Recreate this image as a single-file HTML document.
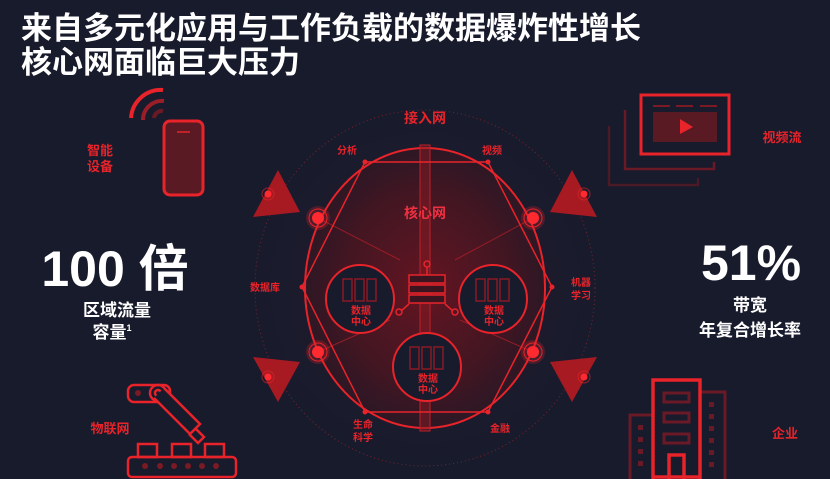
<!DOCTYPE html>
<html><head><meta charset="utf-8"><style>
html,body{margin:0;padding:0;background:#181b2c;}
svg{display:block}
text{font-family:"Liberation Sans","Noto Sans CJK SC",sans-serif;font-weight:bold}
</style></head><body>
<svg width="830" height="479" viewBox="0 0 830 479" xmlns="http://www.w3.org/2000/svg">
<defs>
<radialGradient id="g1" cx="50%" cy="50%" r="50%">
<stop offset="0" stop-color="#6a1420" stop-opacity="0.9"/>
<stop offset="0.7" stop-color="#4a1520" stop-opacity="0.8"/>
<stop offset="1" stop-color="#3a1520" stop-opacity="0.6"/>
</radialGradient>
<radialGradient id="g2" cx="50%" cy="50%" r="50%">
<stop offset="0" stop-color="#3a1828" stop-opacity="0.8"/>
<stop offset="1" stop-color="#181b2c" stop-opacity="0"/>
</radialGradient>
</defs>
<rect width="830" height="479" fill="#181b2c"/>
<!-- title -->
<text x="21" y="39" fill="#fff" font-size="31">来自多元化应用与工作负载的数据爆炸性增长</text>
<text x="21" y="73" fill="#fff" font-size="31">核心网面临巨大压力</text>

<!-- center glow -->
<ellipse cx="425" cy="288" rx="200" ry="200" fill="url(#g2)"/>
<ellipse cx="425" cy="288" rx="170" ry="178" fill="none" stroke="#e8232a" stroke-opacity="0.5" stroke-dasharray="1 3" stroke-width="1"/>
<!-- main ellipse -->
<ellipse cx="425" cy="288" rx="120" ry="140" fill="url(#g1)" stroke="#e8232a" stroke-width="2"/>
<rect x="420" y="145" width="10" height="286" fill="#8a1a22" fill-opacity="0.5" stroke="#c01f28" stroke-width="1"/>
<!-- hexagon -->
<polygon points="365,162 488,162 552,287 488,412 365,412 302,287" fill="none" stroke="#e8232a" stroke-width="1.5"/>
<g fill="#e8232a"><circle cx="365" cy="162" r="2.5"/><circle cx="488" cy="162" r="2.5"/><circle cx="552" cy="287" r="2.5"/><circle cx="488" cy="412" r="2.5"/><circle cx="365" cy="412" r="2.5"/><circle cx="302" cy="287" r="2.5"/></g>
<g stroke="#e8232a" stroke-opacity="0.5" stroke-width="1">
<line x1="318" y1="218" x2="400" y2="260"/><line x1="533" y1="218" x2="455" y2="260"/>
<line x1="318" y1="352" x2="390" y2="320"/><line x1="533" y1="352" x2="460" y2="320"/>
</g>
<!-- nodes -->
<g>
<g transform="translate(318,218)"><circle r="12" fill="#e8232a" fill-opacity="0.25"/><circle r="9" fill="none" stroke="#e8232a"/><circle r="6" fill="#ff2a30"/></g>
<g transform="translate(533,218)"><circle r="12" fill="#e8232a" fill-opacity="0.25"/><circle r="9" fill="none" stroke="#e8232a"/><circle r="6" fill="#ff2a30"/></g>
<g transform="translate(318,352)"><circle r="12" fill="#e8232a" fill-opacity="0.25"/><circle r="9" fill="none" stroke="#e8232a"/><circle r="6" fill="#ff2a30"/></g>
<g transform="translate(533,352)"><circle r="12" fill="#e8232a" fill-opacity="0.25"/><circle r="9" fill="none" stroke="#e8232a"/><circle r="6" fill="#ff2a30"/></g>
</g>
<!-- triangles -->
<g fill="#a81a22">
<polygon points="278,170 300,212 253,217"/>
<polygon points="253,357 300,362 278,402"/>
<polygon points="572,170 550,212 597,217"/>
<polygon points="597,357 550,362 572,402"/>
</g>
<g><circle cx="268" cy="194" r="6" fill="none" stroke="#e8232a" stroke-opacity="0.6"/><circle cx="268" cy="194" r="3.5" fill="#ff2a30"/>
<circle cx="268" cy="377" r="6" fill="none" stroke="#e8232a" stroke-opacity="0.6"/><circle cx="268" cy="377" r="3.5" fill="#ff2a30"/>
<circle cx="584" cy="194" r="6" fill="none" stroke="#e8232a" stroke-opacity="0.6"/><circle cx="584" cy="194" r="3.5" fill="#ff2a30"/>
<circle cx="584" cy="377" r="6" fill="none" stroke="#e8232a" stroke-opacity="0.6"/><circle cx="584" cy="377" r="3.5" fill="#ff2a30"/></g>
<!-- labels around -->
<g fill="#e8232a">
<text x="425" y="123" font-size="14" text-anchor="middle">接入网</text>
<text x="347" y="154" font-size="10" text-anchor="middle">分析</text>
<text x="492" y="154" font-size="10" text-anchor="middle">视频</text>
<text x="425" y="218" font-size="14" text-anchor="middle" fill="#f03040">核心网</text>
<text x="265" y="291" font-size="10" text-anchor="middle">数据库</text>
<text x="581" y="286" font-size="10" text-anchor="middle">机器</text>
<text x="581" y="299" font-size="10" text-anchor="middle">学习</text>
<text x="363" y="428" font-size="10" text-anchor="middle">生命</text>
<text x="363" y="441" font-size="10" text-anchor="middle">科学</text>
<text x="500" y="432" font-size="10" text-anchor="middle">金融</text>
</g>
<!-- server icon -->
<g stroke="#e8232a" stroke-width="1.5" fill="none">
<rect x="409" y="275" width="36" height="8" fill="#3a1520"/>
<rect x="409" y="285" width="36" height="8" fill="#3a1520"/>
<rect x="409" y="295" width="36" height="8" fill="#3a1520"/>
<line x1="427" y1="275" x2="427" y2="267"/><circle cx="427" cy="264" r="3"/>
<line x1="409" y1="304" x2="401" y2="311"/><circle cx="399" cy="312" r="3"/>
<line x1="445" y1="304" x2="453" y2="311"/><circle cx="455" cy="312" r="3"/>
</g>
<!-- datacenters -->
<g>
<circle cx="360" cy="299" r="34" fill="#181b2c" stroke="#e8232a" stroke-width="2"/>
<circle cx="493" cy="299" r="34" fill="#181b2c" stroke="#e8232a" stroke-width="2"/>
<circle cx="427" cy="367" r="34" fill="#181b2c" stroke="#e8232a" stroke-width="2"/>
</g>
<g stroke="#8a1a24" stroke-width="1.5" fill="none">
<rect x="343" y="279" width="9" height="22"/><rect x="355" y="279" width="9" height="22"/><rect x="367" y="279" width="9" height="22"/>
<rect x="476" y="279" width="9" height="22"/><rect x="488" y="279" width="9" height="22"/><rect x="500" y="279" width="9" height="22"/>
<rect x="410" y="347" width="9" height="22"/><rect x="422" y="347" width="9" height="22"/><rect x="434" y="347" width="9" height="22"/>
</g>
<g fill="#e8232a" font-size="10" text-anchor="middle">
<text x="361" y="314">数据</text><text x="361" y="325">中心</text>
<text x="494" y="314">数据</text><text x="494" y="325">中心</text>
<text x="428" y="382">数据</text><text x="428" y="393">中心</text>
</g>

<!-- phone -->
<rect x="164" y="121" width="39" height="74" rx="6" fill="#5a1a24" stroke="#e8232a" stroke-width="3"/>
<line x1="177" y1="132" x2="190" y2="132" stroke="#e8232a" stroke-width="1.5"/>
<path d="M131,118 A30,30 0 0 1 163,90" fill="none" stroke="#e8232a" stroke-width="4"/>
<path d="M143,120 A19,19 0 0 1 164,101" fill="none" stroke="#9a1e28" stroke-width="4"/>
<path d="M154,118 A8,8 0 0 1 163,111" fill="none" stroke="#6a1a24" stroke-width="4"/>
<text x="100" y="155" fill="#e8232a" font-size="13" text-anchor="middle">智能</text>
<text x="100" y="171" fill="#e8232a" font-size="13" text-anchor="middle">设备</text>

<text x="115" y="286" fill="#fff" font-size="50" text-anchor="middle">100 倍</text>
<text x="117" y="316" fill="#fff" font-size="17" text-anchor="middle" font-weight="normal">区域流量</text>
<text x="112" y="338" fill="#fff" font-size="17" text-anchor="middle" font-weight="normal">容量<tspan font-size="9" dy="-7">1</tspan></text>

<!-- robot -->
<g stroke="#e8232a" stroke-width="2.5" fill="none">
<rect x="128" y="385" width="42" height="17" rx="6"/>
<circle cx="158" cy="393" r="8"/><circle cx="158" cy="393" r="3"/>
<path d="M164,388 L200,424 L190,434 L154,398" fill="#181b2c"/>
<path d="M195,428 L204,437 L198,443 L189,434" />
<rect x="128" y="457" width="108" height="20" rx="4"/>
<rect x="138" y="444" width="19" height="13"/><rect x="172" y="444" width="19" height="13"/><rect x="205" y="444" width="19" height="13"/>
</g>
<circle cx="138" cy="393" r="3" fill="#7a1a24"/>
<g fill="#7a1a24"><circle cx="145" cy="466" r="3"/><circle cx="160" cy="466" r="3"/><circle cx="174" cy="466" r="3"/><circle cx="188" cy="466" r="3"/><circle cx="202" cy="466" r="3"/><circle cx="216" cy="466" r="3"/></g>
<text x="110" y="433" fill="#e8232a" font-size="13" text-anchor="middle">物联网</text>

<!-- video -->
<g fill="none">
<path d="M609,126 L609,185 L698,185 L698,178" stroke="#4a1a26" stroke-width="2.5"/>
<path d="M625,110 L625,169 L714,169 L714,162" stroke="#6a1a26" stroke-width="2.5"/>
<rect x="641" y="95" width="88" height="59" stroke="#e8232a" stroke-width="3"/>
</g>
<rect x="653" y="112" width="64" height="30" fill="#5a1a24"/>
<g stroke="#7a1a24" stroke-width="2"><line x1="653" y1="106" x2="670" y2="106"/><line x1="676" y1="106" x2="693" y2="106"/><line x1="700" y1="106" x2="717" y2="106"/></g>
<polygon points="680,119 680,134 693,127" fill="#e8232a"/>
<text x="782" y="142" fill="#e8232a" font-size="13" text-anchor="middle">视频流</text>

<text x="751" y="280" fill="#fff" font-size="50" text-anchor="middle">51%</text>
<text x="750" y="311" fill="#fff" font-size="17" text-anchor="middle" font-weight="normal">带宽</text>
<text x="750" y="336" fill="#fff" font-size="17" text-anchor="middle" font-weight="normal">年复合增长率</text>

<!-- building -->
<g fill="none" stroke="#6a1a26" stroke-width="3">
<path d="M652,415 L630,415 L630,479"/><path d="M700,392 L725,392 L725,479"/>
<rect x="664" y="393" width="25" height="9"/><rect x="664" y="413" width="25" height="9"/><rect x="664" y="434" width="25" height="9"/>
</g>
<g fill="#6a1a26"><rect x="638" y="425" width="5" height="5"/><rect x="638" y="437" width="5" height="5"/><rect x="638" y="449" width="5" height="5"/><rect x="638" y="461" width="5" height="5"/>
<rect x="709" y="402" width="5" height="5"/><rect x="709" y="414" width="5" height="5"/><rect x="709" y="426" width="5" height="5"/><rect x="709" y="438" width="5" height="5"/><rect x="709" y="450" width="5" height="5"/><rect x="709" y="462" width="5" height="5"/></g>
<g fill="none" stroke="#e8232a" stroke-width="3.5">
<path d="M653,479 L653,380 L700,380 L700,479"/>
<path d="M669,479 L669,455 L684,455 L684,479"/>
<line x1="653" y1="477" x2="700" y2="477"/>
</g>
<text x="785" y="438" fill="#e8232a" font-size="13" text-anchor="middle">企业</text>
</svg>
</body></html>
